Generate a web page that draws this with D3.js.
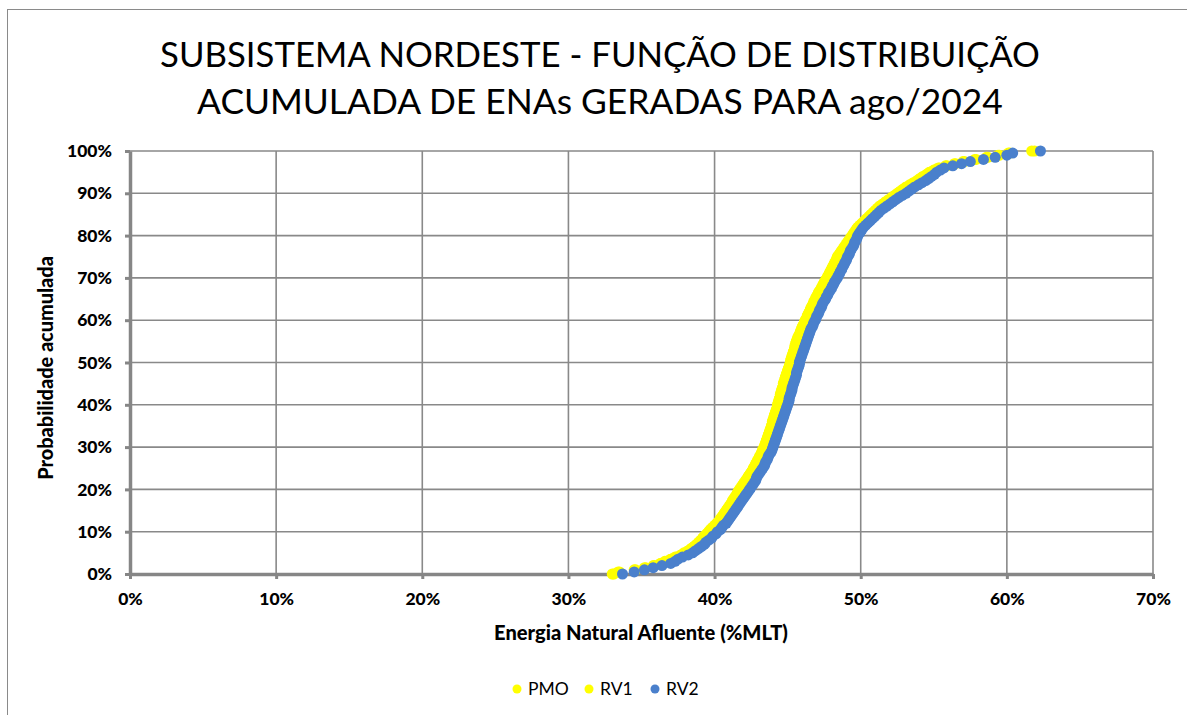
<!DOCTYPE html>
<html>
<head>
<meta charset="utf-8">
<script src="https://cdn.jsdelivr.net/npm/d3@7"></script>
<style>
  body { margin: 0; background: #fff; }
  text { font-family: Lato, "Open Sans", sans-serif; fill: #000; }
</style>
</head>
<body>
<svg id="chart" width="1187" height="715"></svg>
<script>
// ENA values (%MLT) sorted ascending, one per scenario, for each revision
// cumulative probability of point i is i / (n - 1)
var pmo = [
  33.0, 33.4, 34.6, 35.3, 35.9, 36.3, 36.7, 37.0, 37.3, 37.7,
  38.0, 38.2, 38.4, 38.6, 38.8, 38.95, 39.1, 39.2, 39.3, 39.45,
  39.6, 39.75, 39.9, 40.05, 40.2, 40.3, 40.4, 40.5, 40.6, 40.7,
  40.8, 40.9, 41.0, 41.1, 41.2, 41.3, 41.4, 41.5, 41.55, 41.6,
  41.7, 41.8, 41.9, 42.0, 42.1, 42.2, 42.3, 42.4, 42.5, 42.6,
  42.7, 42.75, 42.85, 42.9, 43.0, 43.05, 43.15, 43.2, 43.3, 43.35,
  43.4, 43.45, 43.5, 43.55, 43.6, 43.65, 43.7, 43.75, 43.8, 43.85,
  43.9, 43.95, 44.0, 44.05, 44.1, 44.1, 44.15, 44.2, 44.25, 44.3,
  44.3, 44.35, 44.4, 44.45, 44.5, 44.5, 44.55, 44.6, 44.65, 44.7,
  44.7, 44.75, 44.8, 44.85, 44.9, 44.95, 45.0, 45.05, 45.1, 45.15,
  45.2, 45.25, 45.3, 45.3, 45.35, 45.4, 45.45, 45.5, 45.55, 45.6,
  45.6, 45.65, 45.7, 45.8, 45.85, 45.9, 46.0, 46.05, 46.1, 46.15,
  46.2, 46.3, 46.35, 46.4, 46.5, 46.55, 46.6, 46.7, 46.75, 46.8,
  46.9, 46.95, 47.05, 47.1, 47.2, 47.3, 47.35, 47.45, 47.5, 47.6,
  47.7, 47.75, 47.85, 47.9, 48.0, 48.05, 48.15, 48.2, 48.3, 48.35,
  48.4, 48.5, 48.6, 48.7, 48.8, 48.9, 49.0, 49.1, 49.2, 49.3,
  49.4, 49.5, 49.6, 49.7, 49.8, 49.95, 50.1, 50.25, 50.4, 50.55,
  50.7, 50.85, 51.0, 51.15, 51.3, 51.5, 51.7, 51.9, 52.1, 52.3,
  52.5, 52.7, 52.9, 53.1, 53.35, 53.6, 53.85, 54.05, 54.25, 54.5,
  54.7, 55.0, 55.3, 55.8, 56.4, 57.0, 57.8, 58.6, 59.4, 60.2,
  61.7
];
var rv1 = [
  33.1, 33.5, 34.5, 35.2, 35.8, 36.3, 36.6, 37.0, 37.4, 37.7,
  37.9, 38.2, 38.4, 38.6, 38.75, 38.9, 39.05, 39.2, 39.35, 39.5,
  39.6, 39.7, 39.85, 40.0, 40.15, 40.3, 40.4, 40.5, 40.6, 40.7,
  40.8, 40.9, 41.0, 41.1, 41.2, 41.25, 41.35, 41.45, 41.55, 41.65,
  41.75, 41.85, 41.95, 42.05, 42.15, 42.25, 42.3, 42.4, 42.5, 42.6,
  42.65, 42.75, 42.8, 42.9, 42.95, 43.05, 43.1, 43.2, 43.25, 43.3,
  43.4, 43.45, 43.5, 43.55, 43.6, 43.65, 43.7, 43.75, 43.8, 43.85,
  43.9, 43.95, 43.95, 44.0, 44.05, 44.1, 44.15, 44.2, 44.25, 44.3,
  44.35, 44.4, 44.4, 44.45, 44.5, 44.55, 44.6, 44.6, 44.65, 44.7,
  44.75, 44.8, 44.85, 44.85, 44.9, 44.95, 45.0, 45.05, 45.1, 45.15,
  45.2, 45.2, 45.25, 45.3, 45.35, 45.4, 45.45, 45.5, 45.5, 45.55,
  45.6, 45.7, 45.75, 45.8, 45.85, 45.9, 45.95, 46.0, 46.1, 46.15,
  46.25, 46.3, 46.35, 46.45, 46.5, 46.55, 46.65, 46.7, 46.8, 46.85,
  46.9, 47.0, 47.05, 47.15, 47.2, 47.3, 47.4, 47.45, 47.55, 47.6,
  47.7, 47.8, 47.85, 47.95, 48.0, 48.1, 48.15, 48.25, 48.3, 48.4,
  48.45, 48.55, 48.65, 48.75, 48.85, 48.95, 49.05, 49.15, 49.25, 49.35,
  49.45, 49.55, 49.65, 49.75, 49.85, 50.0, 50.15, 50.3, 50.45, 50.6,
  50.75, 50.9, 51.05, 51.2, 51.35, 51.55, 51.75, 51.95, 52.15, 52.35,
  52.55, 52.75, 52.95, 53.15, 53.4, 53.65, 53.9, 54.1, 54.3, 54.55,
  54.75, 55.05, 55.4, 55.9, 56.5, 57.1, 57.9, 58.7, 59.5, 60.1,
  61.9
];
var rv2 = [
  33.7, 34.5, 35.2, 35.8, 36.4, 37.0, 37.3, 37.5, 37.8, 38.2,
  38.5, 38.7, 38.9, 39.1, 39.3, 39.4, 39.6, 39.8, 39.9, 40.1,
  40.2, 40.4, 40.5, 40.6, 40.8, 40.9, 41.0, 41.1, 41.2, 41.3,
  41.4, 41.5, 41.6, 41.7, 41.8, 41.9, 42.0, 42.1, 42.2, 42.3,
  42.4, 42.5, 42.6, 42.7, 42.8, 42.85, 42.9, 43.0, 43.1, 43.2,
  43.3, 43.4, 43.45, 43.5, 43.6, 43.65, 43.7, 43.8, 43.9, 43.95,
  44.0, 44.05, 44.1, 44.15, 44.2, 44.25, 44.3, 44.35, 44.4, 44.45,
  44.5, 44.55, 44.6, 44.65, 44.7, 44.75, 44.8, 44.85, 44.9, 44.95,
  45.0, 45.05, 45.1, 45.1, 45.15, 45.2, 45.25, 45.3, 45.3, 45.35,
  45.4, 45.45, 45.5, 45.55, 45.6, 45.6, 45.65, 45.7, 45.75, 45.8,
  45.8, 45.85, 45.9, 45.95, 46.0, 46.05, 46.1, 46.15, 46.2, 46.25,
  46.3, 46.35, 46.4, 46.45, 46.5, 46.55, 46.6, 46.7, 46.75, 46.8,
  46.9, 46.95, 47.0, 47.1, 47.15, 47.2, 47.3, 47.35, 47.4, 47.5,
  47.6, 47.65, 47.75, 47.8, 47.9, 48.0, 48.05, 48.15, 48.2, 48.3,
  48.4, 48.45, 48.55, 48.6, 48.7, 48.75, 48.85, 48.9, 49.0, 49.05,
  49.1, 49.2, 49.25, 49.3, 49.4, 49.5, 49.55, 49.6, 49.7, 49.75,
  49.8, 49.9, 50.0, 50.1, 50.2, 50.35, 50.5, 50.65, 50.8, 50.95,
  51.1, 51.25, 51.4, 51.6, 51.8, 52.0, 52.2, 52.4, 52.6, 52.85,
  53.1, 53.3, 53.5, 53.7, 53.95, 54.2, 54.45, 54.65, 54.85, 55.05,
  55.2, 55.45, 55.7, 56.3, 56.9, 57.5, 58.4, 59.2, 60.0, 60.4,
  62.3
];

var seriesNames = ["PMO", "RV1", "RV2"];
var seriesColors = ["#ffff00", "#ffff00", "#4a80cc"];
var xTicks = [0, 0.1, 0.2, 0.3, 0.4, 0.5, 0.6, 0.7];
var yTicks = [0, 0.1, 0.2, 0.3, 0.4, 0.5, 0.6, 0.7, 0.8, 0.9, 1.0];
var titleLines = ["SUBSISTEMA NORDESTE - FUNÇÃO DE DISTRIBUIÇÃO", "ACUMULADA DE ENAs GERADAS PARA ago/2024"];
var xTitle = "Energia Natural Afluente (%MLT)";
var yTitle = "Probabilidade acumulada";

var svg = d3.select("#chart");
var grid = "#898989";

// scale a text's font so it takes the given width
function fitWidth(sel, size, width) {
  sel.style("font-size", size + "px");
  var w = sel.node().getComputedTextLength();
  sel.style("font-size", (size * width / w) + "px");
}

// chart frame (right/bottom run off the picture)
svg.append("rect")
    .attr("x", 7.5).attr("y", 9.5)
    .attr("width", 1300).attr("height", 900)
    .attr("fill", "none")
    .attr("stroke", "#8a8a8a");

var x = d3.scaleLinear().domain([0, 0.7]).range([130, 1153]);
var y = d3.scaleLinear().domain([0, 1]).range([574, 151]);

// title
var titleWidths = [880, 806];
titleLines.forEach(function(t, i) {
  var txt = svg.append("text")
      .attr("x", 600).attr("y", 67 + i * 47)
      .attr("text-anchor", "middle")
      .text(t);
  fitWidth(txt, 36, titleWidths[i]);
});

// gridlines
svg.append("g").selectAll("line")
    .data(yTicks.slice(1))
    .enter().append("line")
    .attr("x1", x(0)).attr("x2", x(0.7))
    .attr("y1", function(d) { return y(d); })
    .attr("y2", function(d) { return y(d); })
    .attr("stroke", grid).attr("stroke-width", 1.6);

svg.append("g").selectAll("line")
    .data(xTicks.slice(1))
    .enter().append("line")
    .attr("x1", function(d) { return x(d); })
    .attr("x2", function(d) { return x(d); })
    .attr("y1", y(0)).attr("y2", y(1))
    .attr("stroke", grid).attr("stroke-width", 1.6);

// axes
var yAxis = svg.append("g")
    .attr("transform", "translate(" + x(0) + ",0)")
    .call(d3.axisLeft(y).tickValues(yTicks).tickFormat(d3.format(".0%"))
      .tickSizeInner(5).tickSizeOuter(0).tickPadding(13));

var xAxis = svg.append("g")
    .attr("transform", "translate(0," + y(0) + ")")
    .call(d3.axisBottom(x).tickValues(xTicks).tickFormat(d3.format(".0%"))
      .tickSizeInner(5).tickSizeOuter(0).tickPadding(14));

[xAxis, yAxis].forEach(function(ax) {
  ax.select(".domain").attr("stroke", "#868686").attr("stroke-width", 3.5);
  ax.selectAll(".tick line").attr("stroke", "#868686").attr("stroke-width", 3);
  ax.selectAll(".tick text")
      .style("font-family", "Lato, sans-serif")
      .style("font-size", "17.5px")
      .style("font-weight", "900")
      .attr("fill", "#000");
});

var xt = svg.append("text")
    .attr("x", 641).attr("y", 640)
    .attr("text-anchor", "middle")
    .style("font-weight", "900")
    .text(xTitle);
fitWidth(xt, 17, 294);

var yt = svg.append("text")
    .attr("transform", "translate(53,368) rotate(-90)")
    .attr("text-anchor", "middle")
    .style("font-weight", "900")
    .text(yTitle);
fitWidth(yt, 17, 224);

// points
var allSeries = [pmo, rv1, rv2];
allSeries.forEach(function(vals, s) {
  var n = vals.length;
  svg.append("g").selectAll("circle")
      .data(vals)
      .enter().append("circle")
      .attr("cx", function(d) { return x(d / 100); })
      .attr("cy", function(d, i) { return y(i / (n - 1)); })
      .attr("r", 5.5)
      .attr("fill", seriesColors[s]);
});

// legend
var legendX = [517, 589, 655];
var legend = svg.append("g").selectAll("g")
    .data(seriesNames)
    .enter().append("g")
    .attr("transform", function(d, i) { return "translate(" + legendX[i] + ",689)"; });

legend.append("circle")
    .attr("r", 4.5)
    .attr("fill", function(d, i) { return seriesColors[i]; });

legend.append("text")
    .attr("x", 11).attr("y", 6)
    .style("font-size", "17.5px")
    .text(function(d) { return d; });
</script>
</body>
</html>
